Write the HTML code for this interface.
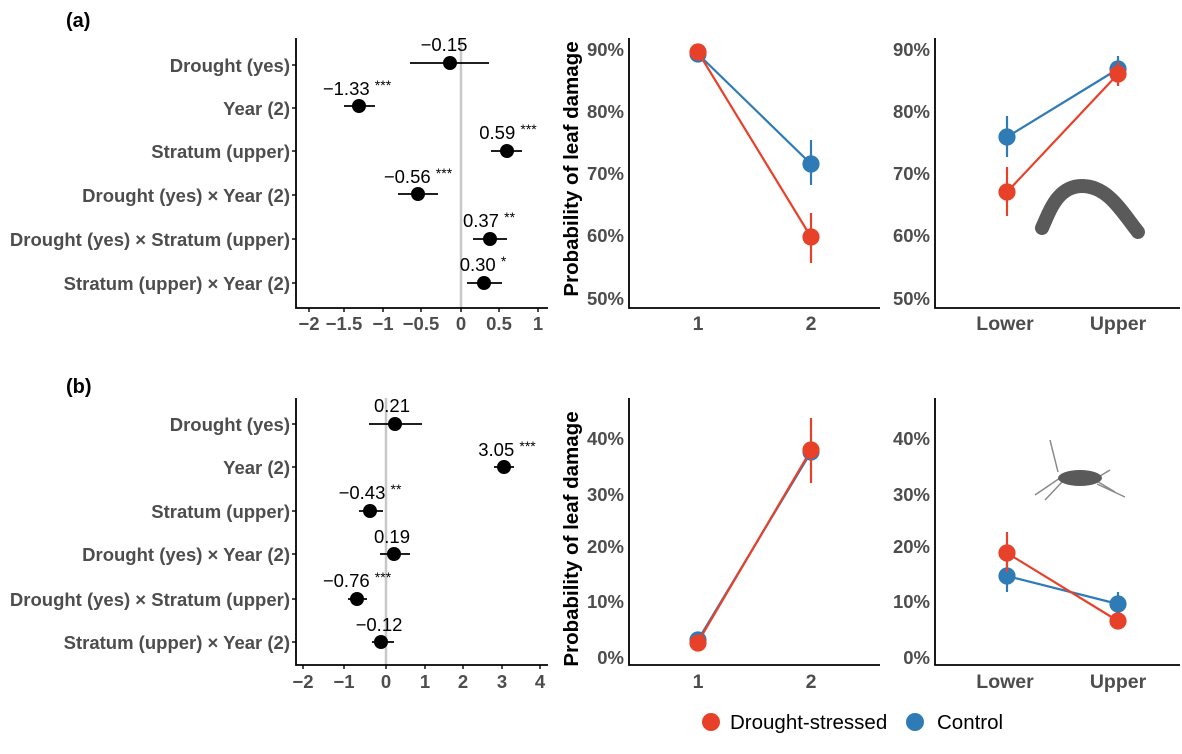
<!DOCTYPE html>
<html><head><meta charset="utf-8"><style>
body{margin:0;background:#fff}
svg{display:block;font-family:"Liberation Sans",Arial,sans-serif}
.yl{font-size:18.5px;font-weight:bold;fill:#4d4d4d;text-anchor:end}
.tk{font-size:18.5px;font-weight:bold;fill:#4d4d4d;text-anchor:middle}
.tr{font-size:18.5px;font-weight:bold;fill:#4d4d4d;text-anchor:end}
.an{font-size:18.5px;fill:#000;text-anchor:middle}
.ax{stroke:#000;stroke-width:1.8;fill:none}
</style></head><body>
<svg width="1182" height="754" viewBox="0 0 1182 754">
<text x="66" y="27" font-size="20" font-weight="bold">(a)</text>
<text x="66" y="393" font-size="20" font-weight="bold">(b)</text>

<!-- Panel a forest -->
<line x1="461" y1="38" x2="461" y2="308" stroke="#c8c8c8" stroke-width="2.5"/>
<path class="ax" d="M296,38 V308 H548"/>
<g class="yl">
<text x="290" y="72">Drought (yes)</text>
<text x="290" y="115">Year (2)</text>
<text x="290" y="158">Stratum (upper)</text>
<text x="290" y="202">Drought (yes) × Year (2)</text>
<text x="290" y="246">Drought (yes) × Stratum (upper)</text>
<text x="290" y="290">Stratum (upper) × Year (2)</text>
</g>
<g stroke="#000" stroke-width="1.4">
<line x1="292" x2="296" y1="65" y2="65"/><line x1="292" x2="296" y1="108" y2="108"/><line x1="292" x2="296" y1="151" y2="151"/><line x1="292" x2="296" y1="195" y2="195"/><line x1="292" x2="296" y1="239" y2="239"/><line x1="292" x2="296" y1="283" y2="283"/>
<line x1="309" x2="309" y1="308" y2="312"/><line x1="344" x2="344" y1="308" y2="312"/><line x1="383" x2="383" y1="308" y2="312"/><line x1="421" x2="421" y1="308" y2="312"/><line x1="461" x2="461" y1="308" y2="312"/><line x1="499" x2="499" y1="308" y2="312"/><line x1="538" x2="538" y1="308" y2="312"/>
</g>
<g class="tk"><text x="309" y="330">−2</text><text x="344" y="330">−1.5</text><text x="383" y="330">−1</text><text x="421" y="330">−0.5</text><text x="461" y="330">0</text><text x="499" y="330">0.5</text><text x="538" y="330">1</text></g>
<g stroke="#000" stroke-width="1.8">
<line x1="410" x2="489" y1="63" y2="63"/><line x1="344" x2="375" y1="106" y2="106"/><line x1="491" x2="522" y1="151" y2="151"/>
<line x1="398" x2="438" y1="194" y2="194"/><line x1="473" x2="507" y1="239" y2="239"/><line x1="467" x2="502" y1="283" y2="283"/>
</g>
<g fill="#000"><circle cx="450" cy="63" r="7"/><circle cx="359" cy="106" r="7"/><circle cx="507" cy="151" r="7"/><circle cx="418" cy="194" r="7"/><circle cx="490" cy="239" r="7"/><circle cx="484" cy="283" r="7"/></g>
<g class="an">
<text x="444" y="51">−0.15</text>
<text x="357" y="95">−1.33 <tspan font-size="14" dy="-5">***</tspan></text>
<text x="508" y="139">0.59 <tspan font-size="14" dy="-5">***</tspan></text>
<text x="418" y="183">−0.56 <tspan font-size="14" dy="-5">***</tspan></text>
<text x="489" y="227">0.37 <tspan font-size="14" dy="-5">**</tspan></text>
<text x="483" y="271">0.30 <tspan font-size="14" dy="-5">*</tspan></text>
</g>

<!-- Panel b forest -->
<line x1="386" y1="398" x2="386" y2="665" stroke="#c8c8c8" stroke-width="2.5"/>
<path class="ax" d="M296,398 V665 H548"/>
<g class="yl">
<text x="290" y="431">Drought (yes)</text>
<text x="290" y="474">Year (2)</text>
<text x="290" y="518">Stratum (upper)</text>
<text x="290" y="561">Drought (yes) × Year (2)</text>
<text x="290" y="606">Drought (yes) × Stratum (upper)</text>
<text x="290" y="649">Stratum (upper) × Year (2)</text>
</g>
<g stroke="#000" stroke-width="1.4">
<line x1="292" x2="296" y1="424" y2="424"/><line x1="292" x2="296" y1="467" y2="467"/><line x1="292" x2="296" y1="511" y2="511"/><line x1="292" x2="296" y1="554" y2="554"/><line x1="292" x2="296" y1="599" y2="599"/><line x1="292" x2="296" y1="642" y2="642"/>
<line x1="303" x2="303" y1="665" y2="669"/><line x1="344" x2="344" y1="665" y2="669"/><line x1="386" x2="386" y1="665" y2="669"/><line x1="425" x2="425" y1="665" y2="669"/><line x1="463" x2="463" y1="665" y2="669"/><line x1="502" x2="502" y1="665" y2="669"/><line x1="540" x2="540" y1="665" y2="669"/>
</g>
<g class="tk"><text x="303" y="688">−2</text><text x="344" y="688">−1</text><text x="386" y="688">0</text><text x="425" y="688">1</text><text x="463" y="688">2</text><text x="502" y="688">3</text><text x="540" y="688">4</text></g>
<g stroke="#000" stroke-width="1.8">
<line x1="369" x2="422" y1="424" y2="424"/><line x1="494" x2="514" y1="467" y2="467"/><line x1="359" x2="383" y1="511" y2="511"/>
<line x1="380" x2="410" y1="554" y2="554"/><line x1="348" x2="367" y1="599" y2="599"/><line x1="372" x2="394" y1="642" y2="642"/>
</g>
<g fill="#000"><circle cx="395" cy="424" r="7"/><circle cx="504" cy="467" r="7"/><circle cx="370" cy="511" r="7"/><circle cx="394" cy="554" r="7"/><circle cx="357" cy="599" r="7"/><circle cx="381" cy="642" r="7"/></g>
<g class="an">
<text x="392" y="412">0.21</text>
<text x="507" y="456">3.05 <tspan font-size="14" dy="-5">***</tspan></text>
<text x="370" y="499">−0.43 <tspan font-size="14" dy="-5">**</tspan></text>
<text x="392" y="543">0.19</text>
<text x="357" y="587">−0.76 <tspan font-size="14" dy="-5">***</tspan></text>
<text x="379" y="631">−0.12</text>
</g>

<!-- Y labels -->
<text transform="translate(578,169) rotate(-90)" font-size="20.5" font-weight="bold" text-anchor="middle">Probability of leaf damage</text>
<text transform="translate(578,539) rotate(-90)" font-size="20.5" font-weight="bold" text-anchor="middle">Probability of leaf damage</text>

<!-- tick labels -->
<g class="tr">
<text x="624" y="56">90%</text><text x="624" y="118">80%</text><text x="624" y="180">70%</text><text x="624" y="242">60%</text><text x="624" y="305">50%</text>
<text x="930" y="56">90%</text><text x="930" y="118">80%</text><text x="930" y="180">70%</text><text x="930" y="242">60%</text><text x="930" y="305">50%</text>
<text x="624" y="445">40%</text><text x="624" y="501">30%</text><text x="624" y="553">20%</text><text x="624" y="608">10%</text><text x="624" y="664">0%</text>
<text x="930" y="445">40%</text><text x="930" y="501">30%</text><text x="930" y="553">20%</text><text x="930" y="608">10%</text><text x="930" y="664">0%</text>
</g>
<g class="tk" style="font-size:19.5px"><text x="698" y="330">1</text><text x="811" y="330">2</text><text x="1005" y="330">Lower</text><text x="1118" y="330">Upper</text>
<text x="698" y="688">1</text><text x="811" y="688">2</text><text x="1005" y="688">Lower</text><text x="1118" y="688">Upper</text></g>

<!-- Middle a -->
<path class="ax" d="M629,38 V308 H880"/>
<g stroke="#2f7bb5" stroke-width="2.2" fill="#2f7bb5">
<line x1="698" y1="54" x2="811" y2="164"/><line x1="811" y1="140" x2="811" y2="185"/><line x1="698" y1="47" x2="698" y2="62"/><circle cx="811" cy="164" r="7.5"/><circle cx="698" cy="54" r="7.5"/>
</g>
<g stroke="#e8412a" stroke-width="2.2" fill="#e8412a">
<line x1="698" y1="52" x2="811" y2="237"/><line x1="811" y1="213" x2="811" y2="263"/><line x1="698" y1="45" x2="698" y2="60"/><circle cx="811" cy="237" r="7.5"/><circle cx="698" cy="52" r="7.5"/>
</g>

<!-- Right a -->
<path class="ax" d="M935,38 V308 H1180"/>
<g stroke="#2f7bb5" stroke-width="2.2" fill="#2f7bb5">
<line x1="1007" y1="137" x2="1118" y2="69"/><line x1="1007" y1="116" x2="1007" y2="157"/><line x1="1118" y1="56" x2="1118" y2="80"/><circle cx="1007" cy="137" r="7.5"/><circle cx="1118" cy="69" r="7.5"/>
</g>
<g stroke="#e8412a" stroke-width="2.2" fill="#e8412a">
<line x1="1007" y1="192" x2="1118" y2="74"/><line x1="1007" y1="167" x2="1007" y2="216"/><line x1="1118" y1="62" x2="1118" y2="86"/><circle cx="1007" cy="192" r="7.5"/><circle cx="1118" cy="74" r="7.5"/>
</g>
<path d="M1042,228 C1050,210 1058,186 1082,186 C1108,186 1122,212 1138,232" stroke="#5a5a5a" stroke-width="14" fill="none" stroke-linecap="round"/>

<!-- Middle b -->
<path class="ax" d="M629,398 V665 H880"/>
<g stroke="#2f7bb5" stroke-width="2.2" fill="#2f7bb5">
<line x1="698" y1="640" x2="811" y2="452"/><circle cx="698" cy="640" r="7.5"/><circle cx="811" cy="452" r="7.5"/>
</g>
<g stroke="#e8412a" stroke-width="2.2" fill="#e8412a">
<line x1="698" y1="642" x2="811" y2="450"/><line x1="811" y1="418" x2="811" y2="483"/><circle cx="698" cy="643" r="7.5"/><circle cx="811" cy="450" r="7.5"/>
</g>

<!-- Right b -->
<path class="ax" d="M935,398 V665 H1180"/>
<g stroke="#2f7bb5" stroke-width="2.2" fill="#2f7bb5">
<line x1="1007" y1="576" x2="1118" y2="604"/><line x1="1007" y1="558" x2="1007" y2="592"/><line x1="1118" y1="592" x2="1118" y2="618"/><circle cx="1007" cy="576" r="7.5"/><circle cx="1118" cy="604" r="7.5"/>
</g>
<g stroke="#e8412a" stroke-width="2.2" fill="#e8412a">
<line x1="1007" y1="553" x2="1118" y2="621"/><line x1="1007" y1="532" x2="1007" y2="572"/><line x1="1118" y1="614" x2="1118" y2="629"/><circle cx="1007" cy="553" r="7.5"/><circle cx="1118" cy="621" r="7.5"/>
</g>
<g stroke="#8a8a8a" stroke-width="1.5" fill="none">
<path d="M1060,478 L1035,495 M1062,482 L1045,500 M1095,480 L1115,492 M1097,484 L1125,497 M1058,472 L1050,440 M1100,476 L1110,470"/>
</g>
<ellipse cx="1080" cy="478" rx="22" ry="8" fill="#5a5a5a"/>

<!-- Legend -->
<circle cx="711" cy="722" r="9" fill="#e8412a"/>
<text x="730" y="729" font-size="20.5">Drought-stressed</text>
<circle cx="915" cy="722" r="9" fill="#2f7bb5"/>
<text x="937" y="729" font-size="20.5">Control</text>
</svg>
</body></html>
